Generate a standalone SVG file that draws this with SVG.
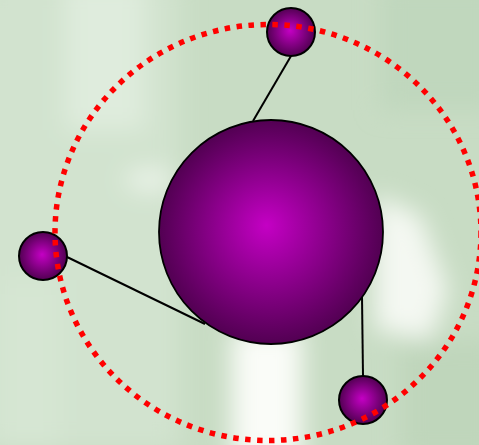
<svg xmlns="http://www.w3.org/2000/svg" width="479" height="445" viewBox="0 0 479 445">
<defs>
<radialGradient id="ball" cx="50%" cy="50%" r="50%" fx="48%" fy="47%">
<stop offset="0" stop-color="#c400c4"/>
<stop offset="1" stop-color="#520052"/>
</radialGradient>
<filter id="blur" x="-20%" y="-20%" width="140%" height="140%">
<feGaussianBlur stdDeviation="12"/>
</filter>
<style>
.node{fill:url(#ball);stroke:#000;}
.big{stroke-width:1.8;}
.small{stroke-width:2;}
.edge{stroke:#000;stroke-width:2;fill:none;}
.orbit{fill:none;stroke:#ff0000;stroke-width:5.5;stroke-dasharray:5.5 6.5;}
</style>
</defs>
<g id="background">
<rect x="0" y="0" width="479" height="445" fill="#c8dcc4"/>
<g filter="url(#blur)">
<rect x="-20" y="-20" width="200" height="470" fill="#d2e3cf"/>
<rect x="65" y="-20" width="80" height="150" fill="#dfecdd"/>
<rect x="380" y="-20" width="120" height="130" fill="#c0d7bd"/>
<rect x="400" y="340" width="100" height="120" fill="#bfd6bb"/>
<path d="M375 195 L420 215 L448 290 L430 340 L375 330 Z" fill="#f4f8f2"/>
<rect x="232" y="330" width="70" height="130" fill="#fafcf8"/>
<ellipse cx="150" cy="180" rx="25" ry="10" fill="#eef5ec"/>
<rect x="0" y="280" width="60" height="170" fill="#d6e6d3"/>
</g>
</g>
<g id="connectors">
<line class="edge" x1="291" y1="56" x2="253" y2="121"/>
<line class="edge" x1="67" y1="257" x2="205" y2="324"/>
<line class="edge" x1="362" y1="297" x2="363" y2="376"/>
</g>
<g id="hub">
<circle class="node big" cx="271" cy="232" r="112"/>
</g>
<g id="satellite-top">
<circle class="node small" cx="291" cy="32" r="24"/>
</g>
<g id="satellite-left">
<circle class="node small" cx="43" cy="256" r="24"/>
</g>
<g id="satellite-bottom">
<circle class="node small" cx="363" cy="400" r="24"/>
</g>
<g id="orbit">
<ellipse class="orbit" cx="268" cy="232.5" rx="213" ry="208"/>
</g>
</svg>
